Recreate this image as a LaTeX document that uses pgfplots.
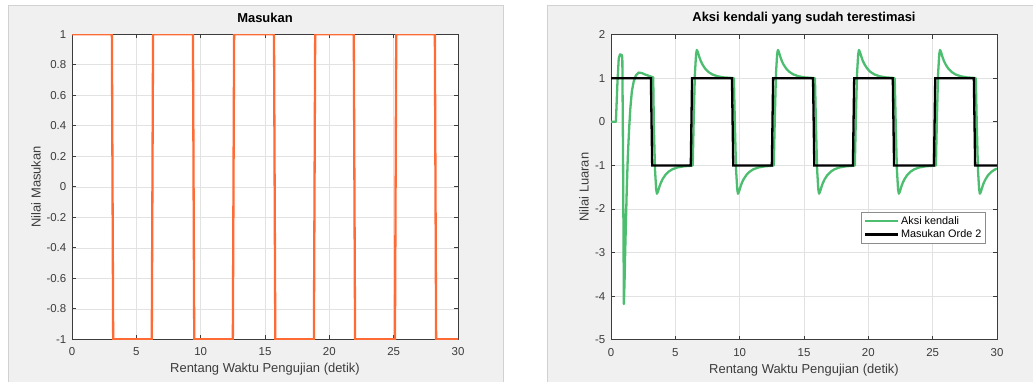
\documentclass[border=0pt]{standalone}
\usepackage{pgfplots}
\pgfplotsset{compat=1.18}
\usepackage{fontspec}
\setmainfont{Liberation Sans}
\definecolor{mlorange}{RGB}{255,107,53}
\definecolor{mlgreen}{RGB}{77,190,112}
\definecolor{bggray}{RGB}{240,240,240}
\definecolor{axcol}{RGB}{60,60,60}
\definecolor{gridcol}{RGB}{226,226,226}
\pgfplotsset{
  mlaxis/.style={
    scale only axis,
    width=386bp, height=305bp,
    xmin=0, xmax=30,
    xtick={0,5,...,30},
    grid=major,
    major grid style={gridcol, line width=0.6bp},
    axis line style={axcol, line width=0.7bp},
    tick style={axcol, line width=0.7bp},
    major tick length=4bp,
    tick align=inside,
    axis background/.style={fill=white},
    /pgf/number format/assume math mode=true,
    ticklabel style={font=\fontsize{11.5}{13}\selectfont, text=axcol},
    xticklabel style={yshift=-5bp},
    yticklabel style={xshift=-2.2bp},
    label style={font=\fontsize{13}{15}\selectfont, text=axcol},
    title style={font=\fontsize{13}{15}\selectfont\bfseries, text=black},
  }
}
\begin{document}
\begin{tikzpicture}[x=1bp,y=1bp]
\path[use as bounding box] (0,0) rectangle (1033,381);
\fill[white] (0,0) rectangle (1033,381);
\filldraw[fill=bggray, draw=black!18] (8,-1) rectangle (503,376);
\filldraw[fill=bggray, draw=black!18] (547,-1) rectangle (1034,376);

\begin{axis}[mlaxis,
  at={(72bp,41.7bp)}, anchor=south west,
  ymin=-1, ymax=1,
  ytick={-1,-0.8,...,1},
  yticklabel style={/pgf/number format/fixed,/pgf/number format/precision=1},
  title={Masukan},
  title style={at={(axis description cs:0.5,1.034)}, anchor=center},
  xlabel={Rentang Waktu Pengujian (detik)},
  xlabel style={at={(axis description cs:0.5,-0.097)}, anchor=center},
  ylabel={Nilai Masukan},
  ylabel style={at={(axis description cs:-0.093,0.5)}, anchor=center},
]
\addplot[mlorange, line width=2.3bp] coordinates {
(0,1) (3.1,1) (3.2,-1) (6.2,-1) (6.3,1) (9.4,1) (9.5,-1) (12.5,-1) (12.6,1)
(15.7,1) (15.8,-1) (18.8,-1) (18.9,1) (21.9,1) (22.0,-1) (25.1,-1) (25.2,1)
(28.2,1) (28.3,-1) (30,-1)
};
\end{axis}

\begin{axis}[mlaxis,
  at={(611bp,41.3bp)}, anchor=south west,
  ymin=-5, ymax=2,
  ytick={-5,-4,...,2},
  title={Aksi kendali yang sudah terestimasi},
  title style={at={(axis description cs:0.5,1.034)}, anchor=center},
  xlabel={Rentang Waktu Pengujian (detik)},
  xlabel style={at={(axis description cs:0.5,-0.099)}, anchor=center},
  ylabel={Nilai Luaran},
  ylabel style={at={(axis description cs:-0.07,0.5)}, anchor=center},
  legend style={at={(rel axis cs:0.971,0.418)}, anchor=north east,
    draw=black!45, fill=white, font=\fontsize{10.9}{12}\selectfont,
    inner sep=2.2bp, row sep=0bp},
  legend cell align=left,
  legend image code/.code={\draw[#1] (0bp,0bp) -- (33bp,0bp);},
]
\addplot[mlgreen, line width=2.3bp, line join=round] coordinates {
(0,0) (0.38,0) (0.5,0.9) (0.6,1.45) (0.7,1.55) (0.85,1.53) (0.88,1.45) (0.94,-1.0) (1.0,-4.18)
(1.05,-3.7) (1.1,-3.0) (1.16,-2.3) (1.22,-1.6) (1.3,-0.85) (1.4,-0.2) (1.5,0.3) (1.62,0.7)
(1.76,0.92) (1.94,1.07) (2.15,1.13) (2.4,1.12) (2.7,1.08) (3.0,1.05) (3.28,1.02)
(3.33,-0.1) (3.42,-1.1) (3.51,-1.55) (3.57,-1.65) (3.65,-1.60) (3.75,-1.50) (3.87,-1.40)
(4.02,-1.31) (4.22,-1.22) (4.47,-1.145) (4.77,-1.088) (5.17,-1.046) (5.67,-1.02) (6.17,-1.009)
(6.35,-1.0) (6.43,0.1) (6.52,1.1) (6.61,1.55) (6.67,1.65) (6.75,1.60) (6.85,1.50) (6.97,1.40)
(7.12,1.31) (7.32,1.22) (7.57,1.145) (7.87,1.088) (8.27,1.046) (8.77,1.02) (9.27,1.009)
(9.55,1.0) (9.63,-0.1) (9.72,-1.1) (9.81,-1.55) (9.87,-1.65) (9.95,-1.60) (10.05,-1.50) (10.17,-1.40)
(10.32,-1.31) (10.52,-1.22) (10.77,-1.145) (11.07,-1.088) (11.47,-1.046) (11.97,-1.02) (12.47,-1.009)
(12.65,-1.0) (12.73,0.1) (12.82,1.1) (12.91,1.55) (12.97,1.65) (13.05,1.60) (13.15,1.50) (13.27,1.40)
(13.42,1.31) (13.62,1.22) (13.87,1.145) (14.17,1.088) (14.57,1.046) (15.07,1.02) (15.57,1.009)
(15.85,1.0) (15.93,-0.1) (16.02,-1.1) (16.11,-1.55) (16.17,-1.65) (16.25,-1.60) (16.35,-1.50) (16.47,-1.40)
(16.62,-1.31) (16.82,-1.22) (17.07,-1.145) (17.37,-1.088) (17.77,-1.046) (18.27,-1.02) (18.77,-1.009)
(18.95,-1.0) (19.03,0.1) (19.12,1.1) (19.21,1.55) (19.27,1.65) (19.35,1.60) (19.45,1.50) (19.57,1.40)
(19.72,1.31) (19.92,1.22) (20.17,1.145) (20.47,1.088) (20.87,1.046) (21.37,1.02) (21.87,1.009)
(22.05,1.0) (22.13,-0.1) (22.22,-1.1) (22.31,-1.55) (22.37,-1.65) (22.45,-1.60) (22.55,-1.50) (22.67,-1.40)
(22.82,-1.31) (23.02,-1.22) (23.27,-1.145) (23.57,-1.088) (23.97,-1.046) (24.47,-1.02) (24.97,-1.009)
(25.25,-1.0) (25.33,0.1) (25.42,1.1) (25.51,1.55) (25.57,1.65) (25.65,1.60) (25.75,1.50) (25.87,1.40)
(26.02,1.31) (26.22,1.22) (26.47,1.145) (26.77,1.088) (27.17,1.046) (27.67,1.02) (28.17,1.009)
(28.35,1.0) (28.43,-0.1) (28.52,-1.1) (28.61,-1.55) (28.67,-1.65) (28.75,-1.60) (28.85,-1.50) (28.97,-1.40)
(29.12,-1.31) (29.32,-1.22) (29.57,-1.145) (29.87,-1.088) (30,-1.075)
};
\addlegendentry{Aksi kendali}
\addplot[black, line width=2.3bp] coordinates {
(0,1) (3.1,1) (3.2,-1) (6.2,-1) (6.3,1) (9.4,1) (9.5,-1) (12.5,-1) (12.6,1)
(15.7,1) (15.8,-1) (18.8,-1) (18.9,1) (21.9,1) (22.0,-1) (25.1,-1) (25.2,1)
(28.2,1) (28.3,-1) (30,-1)
};
\addlegendentry{Masukan Orde 2}
\end{axis}
\end{tikzpicture}
\end{document}
